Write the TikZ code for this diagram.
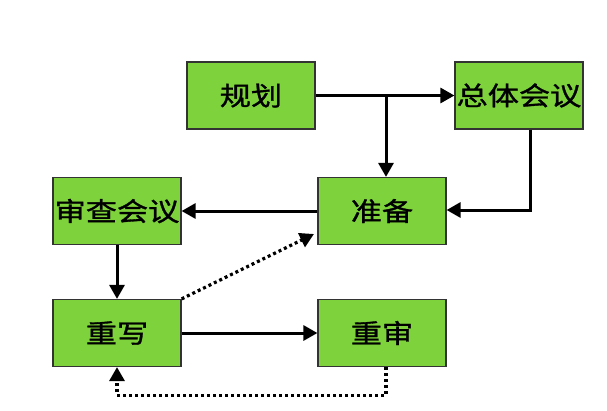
\documentclass[tikz,border=0pt]{standalone}
\usepackage{fontspec}
\setmainfont{Liberation Sans}
\newfontfamily\cjk[FakeStretch=1.2,FakeBold=1.2]{Noto Sans CJK SC}
\usetikzlibrary{arrows.meta}
\definecolor{boxgreen}{RGB}{126,211,60}
\begin{document}
\begin{tikzpicture}[x=1pt,y=-1pt,
  box/.style={draw=black!80, line width=1.2pt, fill=boxgreen, minimum width=128pt, minimum height=67pt, inner sep=0pt, font=\cjk\fontsize{26}{26}\selectfont},
  arr/.style={line width=3pt, -{Triangle[length=14pt,width=15pt]}},
  darr/.style={line width=3.2pt, dash pattern=on 3pt off 3pt, -{Triangle[length=14pt,width=15pt]}}]
\useasboundingbox (0,0) rectangle (607,410);
\node[box] (plan) at (251,95.5) {规划};
\node[box] (zt) at (519,95.5) {总体会议};
\node[box] (sc) at (117,211) {审查会议};
\node[box] (zb) at (382,211) {准备};
\node[box] (cx) at (117,333) {重写};
\node[box] (cs) at (382,333) {重审};
\coordinate (br) at (386,96);
\coordinate (dt) at (314,234);
\draw[arr] (plan) -- (zt);
\draw[arr] (br) -- (br |- zb.north);
\draw[arr] ([xshift=11pt]zt.south) |- ([yshift=1pt]zb.east);
\draw[arr] (zb.west) -- (sc.east);
\draw[arr] (sc.south) -- (cx.north);
\draw[arr] (cx.east) -- (cs.west);
\draw[darr] (cx.north east) -- (dt);
\draw[darr] ([xshift=4pt]cs.south) -- ++(0,28) -| (cx.south);
\end{tikzpicture}
\end{document}
